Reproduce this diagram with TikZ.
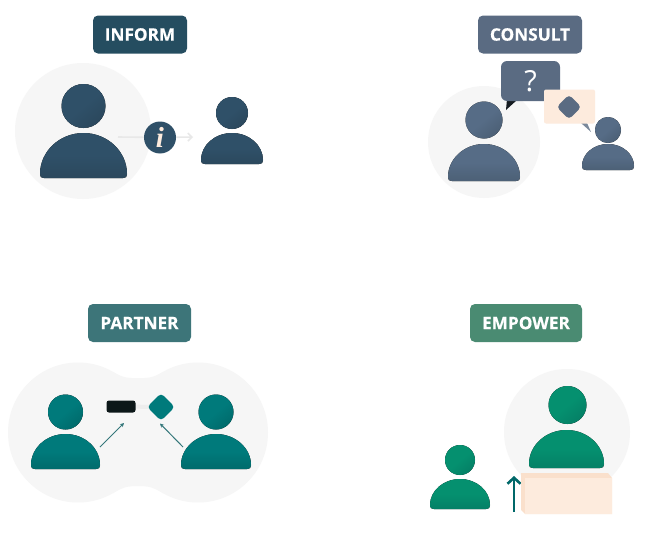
\documentclass[tikz,border=0pt]{standalone}
\usepackage{fontspec}
\setmainfont[BoldFeatures={FakeBold=0.5}]{Open Sans}
\newfontfamily\serifitalic{Liberation Serif}
\usetikzlibrary{arrows.meta,shapes.geometric}
\definecolor{informbox}{HTML}{254D60}
\definecolor{consultbox}{HTML}{5A6B82}
\definecolor{partnerbox}{HTML}{3D7579}
\definecolor{empowerbox}{HTML}{4A8B72}
\definecolor{informfg}{HTML}{2F5068}
\definecolor{informdk}{HTML}{2B485D}
\definecolor{consultfg}{HTML}{566C86}
\definecolor{consultdk}{HTML}{4C6076}
\definecolor{partnerfg}{HTML}{007A7B}
\definecolor{partnerdk}{HTML}{006B6C}
\definecolor{empowerfg}{HTML}{05906F}
\definecolor{empowerdk}{HTML}{058066}
\definecolor{peach}{HTML}{FDEBDD}
\definecolor{peachdk}{HTML}{FAE0CC}
\definecolor{halo}{HTML}{F6F6F6}
\definecolor{faint}{HTML}{E8E8E8}
\tikzset{
  titlebox/.style={rounded corners=5pt,text=white,font=\bfseries\fontsize{17.2}{18}\selectfont,inner sep=0pt,minimum height=38pt},
  halodisc/.style={fill=halo},
  thinarrow/.style={draw=partnerbox!85!teal,line width=1pt,-{Stealth[length=4pt,width=4pt]}},
  faintline/.style={draw=faint,line width=1.6pt},
  softdiamond/.style={diamond,rounded corners=4pt,minimum width=28pt,minimum height=28pt,inner sep=0pt},
}
\newcommand{\lowered}[1]{\raisebox{-1.5pt}{#1}}
% cx, head y, head r, left x, right x, body top, body bottom, base colour, dark colour
\newcommand{\persona}[9]{%
  \fill[top color=#8,bottom color=#9,middle color=#8,shading angle=40]
    (#1,#2) circle[radius=#3];
  \pgfmathsetmacro{\bc}{(#4+#5)/2}
  \pgfmathsetmacro{\hw}{(#5-#4)/2}
  \pgfmathsetmacro{\by}{#7-4}
  \pgfmathsetmacro{\cy}{\by-0.55*(\by-#6)}
  \pgfmathsetmacro{\cl}{\bc-0.55*\hw}
  \pgfmathsetmacro{\cr}{\bc+0.55*\hw}
  \fill[top color=#8,bottom color=#9,middle color=#8]
    (#4,\by) .. controls (#4,\cy) and (\cl,#6) .. (\bc,#6)
    .. controls (\cr,#6) and (#5,\cy) .. (#5,\by)
    .. controls (#5,#7-1) and (#5-1,#7) .. (#5-4,#7)
    -- (#4+4,#7) .. controls (#4+1,#7) and (#4,#7-1) .. (#4,\by) -- cycle;
}
\begin{document}
\begin{tikzpicture}[x=1pt,y=-1pt]
\useasboundingbox (0,0) rectangle (664,538);
\fill[white] (0,0) rectangle (664,538);

% INFORM
\node[titlebox,fill=informbox,minimum width=94pt] (tinform) at (140,34.5) {\lowered{INFORM}};
\fill[halodisc] (83,131) circle[radius=68];
\persona{83.5}{106}{22}{40}{127}{133}{178}{informfg}{informdk}
\persona{232}{113}{16}{201}{263}{133}{164}{informfg}{informdk}
\coordinate (ifrom) at (118,137);
\coordinate (ito) at (193,137);
\node[circle,fill=informfg,minimum size=32pt,inner sep=0pt,text=peach,font=\serifitalic\itshape\bfseries\fontsize{29}{29}\selectfont] (infoi) at (160,137.5) {i};
\draw[faintline] (ifrom) -- (infoi);
\draw[faintline,-{Straight Barb[length=4pt,width=8pt]}] (infoi) -- (ito);

% CONSULT
\node[titlebox,fill=consultbox,minimum width=104pt] (tconsult) at (530,34.5) {\lowered{CONSULT}};
\fill[halodisc] (484,142) circle[radius=56];
\persona{484}{120}{18.5}{448}{520}{144}{181}{consultfg}{consultdk}
\persona{608}{130}{13}{582}{634}{144}{170}{consultfg}{consultdk}
\fill[black!75!consultfg] (507,99) -- (517,100) -- (506,110) -- cycle;
\node[rounded corners=6pt,fill=consultbox,minimum width=59pt,minimum height=40pt,inner sep=0pt,text=white,font=\fontsize{29}{30}\selectfont] (question) at (530.5,81) {?};
\fill[consultbox!80] (581,123) -- (587,123) -- (591,132) -- cycle;
\node[rounded corners=2pt,fill=peach,minimum width=51pt,minimum height=34pt,inner sep=0pt] (answer) at (569.5,106.5) {};
\node[softdiamond,fill=consultbox,minimum width=25pt,minimum height=25pt] (adiamond) at (569,107) {};

% PARTNER
\node[titlebox,fill=partnerbox,minimum width=103pt] (tpartner) at (139.5,323) {\lowered{PARTNER}};
\fill[halodisc] (78,432.5) circle[radius=70] (198,432.5) circle[radius=70];
\fill[halodisc] (113,372) .. controls (125,379) and (130,378) .. (138,378)
  .. controls (146,378) and (151,379) .. (163,372) -- (163,493)
  .. controls (151,486) and (146,486) .. (138,486)
  .. controls (130,486) and (125,486) .. (113,493) -- cycle;
\persona{65.5}{412}{17.5}{31}{100}{434}{469}{partnerfg}{partnerdk}
\persona{216}{412}{17.5}{181}{251}{434}{469}{partnerfg}{partnerdk}
\coordinate (pbarc) at (121,406.5);
\coordinate (pdiac) at (161,407);
\draw[draw=black!7,line width=4pt] (pbarc) -- (pdiac);
\node[rounded corners=2.5pt,fill=black!80!partnerbox,minimum width=29pt,minimum height=12pt,inner sep=0pt] (pbar) at (pbarc) {};
\node[softdiamond,fill=partnerfg] (pdiamond) at (pdiac) {};
\coordinate (la) at (100,447);
\coordinate (lb) at (124,423);
\coordinate (ra) at (183,447);
\coordinate (rb) at (160,423.5);
\draw[thinarrow] (la) -- (lb);
\draw[thinarrow] (ra) -- (rb);

% EMPOWER
\node[titlebox,fill=empowerbox,minimum width=112pt] (tempower) at (526,323) {\lowered{EMPOWER}};
\fill[halodisc] (567,432) circle[radius=63];
\persona{567.5}{405}{19}{529}{604}{430}{468}{empowerfg}{empowerdk}
\persona{460}{460}{15}{430}{490}{479}{509}{empowerfg}{empowerdk}
\coordinate (ea) at (514,512);
\coordinate (eb) at (514,476);
\draw[draw=partnerfg!85!black,line width=1.3pt,-{Straight Barb[length=6pt,width=13pt,line width=2.6pt]}] (ea) -- (eb);
\fill[peachdk] (521,473) -- (608,473) -- (612,478) -- (612,514) -- (525,514) -- (521,510) -- cycle;
\fill[peach] (525,478) rectangle (612,514);
\end{tikzpicture}
\end{document}
